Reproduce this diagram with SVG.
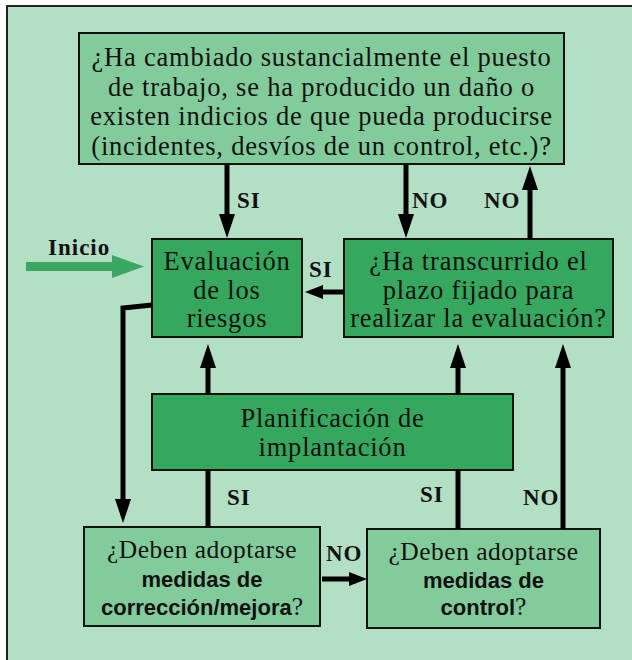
<svg xmlns="http://www.w3.org/2000/svg" width="632" height="660" viewBox="0 0 632 660">
<style>
.bg{fill:#b3dfc4;stroke:#222;stroke-width:2}
.light{fill:#82cb9a;stroke:#111;stroke-width:2}
.dark{fill:#35a85e;stroke:#111;stroke-width:2}
.t{font-family:"Liberation Serif","DejaVu Serif",serif;font-size:26.5px;letter-spacing:0.8px;fill:#111;text-anchor:middle}
.tb{font-family:"Liberation Sans","DejaVu Sans",sans-serif;font-size:22px;font-weight:bold;fill:#111}
.tr{font-family:"Liberation Serif","DejaVu Serif",serif;font-size:25.5px;font-weight:normal}
.sm{font-size:25.5px;letter-spacing:0.5px}
.lbl{font-family:"Liberation Serif","DejaVu Serif",serif;font-size:23px;font-weight:bold;letter-spacing:1px;fill:#111}
.wire{fill:none;stroke:#000;stroke-width:5}
</style>
<defs>
<marker id="ah" markerUnits="userSpaceOnUse" viewBox="0 0 24 16" markerWidth="24" markerHeight="16" refX="8" refY="8" orient="auto"><path d="M0,0 L24,8 L0,16 z" fill="#000"/></marker>
<marker id="ahs" markerUnits="userSpaceOnUse" viewBox="0 0 18 14" markerWidth="18" markerHeight="14" refX="6" refY="7" orient="auto"><path d="M0,0 L18,7 L0,14 z" fill="#000"/></marker>
</defs>
<rect x="0" y="0" width="632" height="660" fill="#fff"/>
<rect class="bg" x="7" y="6" width="640" height="670"/>

<g id="q-cambio">
<rect class="light" x="79" y="33" width="485" height="131"/>
<text class="t" x="321.5" y="66">¿Ha cambiado sustancialmente el puesto</text>
<text class="t" x="321.5" y="95.5">de trabajo, se ha producido un daño o</text>
<text class="t" x="321.5" y="125">existen indicios de que pueda producirse</text>
<text class="t" x="321.5" y="154.5">(incidentes, desvíos de un control, etc.)?</text>
</g>

<g id="evaluacion">
<rect class="dark" x="152" y="239" width="150" height="98"/>
<text class="t" x="227" y="270">Evaluación</text>
<text class="t" x="227" y="299">de los</text>
<text class="t" x="227" y="327">riesgos</text>
</g>

<g id="q-plazo">
<rect class="dark" x="344" y="239" width="269" height="98"/>
<text class="t" x="478.5" y="270">¿Ha transcurrido el</text>
<text class="t" x="478.5" y="299">plazo fijado para</text>
<text class="t" x="478.5" y="327">realizar la evaluación?</text>
</g>

<g id="planificacion">
<rect class="dark" x="152" y="394" width="361" height="76"/>
<text class="t" x="332.5" y="427">Planificación de</text>
<text class="t" x="332.5" y="456">implantación</text>
</g>

<g id="q-correccion">
<rect class="light" x="84" y="527" width="236" height="99"/>
<text class="t sm" x="202" y="558">¿Deben adoptarse</text>
<text class="tb" x="202" y="587" text-anchor="middle">medidas de</text>
<text class="tb" x="202" y="615" text-anchor="middle">corrección/mejora<tspan class="tr">?</tspan></text>
</g>

<g id="q-control">
<rect class="light" x="367" y="529" width="233" height="99"/>
<text class="t sm" x="483.5" y="560">¿Deben adoptarse</text>
<text class="tb" x="483.5" y="588" text-anchor="middle">medidas de</text>
<text class="tb" x="483.5" y="615" text-anchor="middle">control<tspan class="tr">?</tspan></text>
</g>

<g id="inicio">
<path d="M26,262 H112 V255 L144,266.5 L112,278 V271 H26 Z" fill="#3aa862"/>
<text class="lbl" x="48" y="255">Inicio</text>
</g>

<g id="connectors">
<path class="wire" d="M227,165 V222" marker-end="url(#ah)"/>
<path class="wire" d="M406,165 V222" marker-end="url(#ah)"/>
<path class="wire" d="M530,239 V182" marker-end="url(#ah)"/>
<path class="wire" d="M344,292 H317" marker-end="url(#ahs)"/>
<path class="wire" d="M208,394 V360" marker-end="url(#ah)"/>
<path class="wire" d="M458,394 V360" marker-end="url(#ah)"/>
<path class="wire" d="M563,529 V360" marker-end="url(#ah)"/>
<path class="wire" d="M208,470 V527"/>
<path class="wire" d="M458,470 V529"/>
<path class="wire" d="M152,305 L123,308 V507" marker-end="url(#ah)"/>
<path class="wire" d="M322,579 H355" marker-end="url(#ahs)"/>
<text class="lbl" x="237" y="208">SI</text>
<text class="lbl" x="412" y="208">NO</text>
<text class="lbl" x="484" y="208">NO</text>
<text class="lbl" x="309" y="277">SI</text>
<text class="lbl" x="227" y="505">SI</text>
<text class="lbl" x="420" y="502">SI</text>
<text class="lbl" x="523" y="505">NO</text>
<text class="lbl" x="326" y="561">NO</text>
</g>
</svg>
